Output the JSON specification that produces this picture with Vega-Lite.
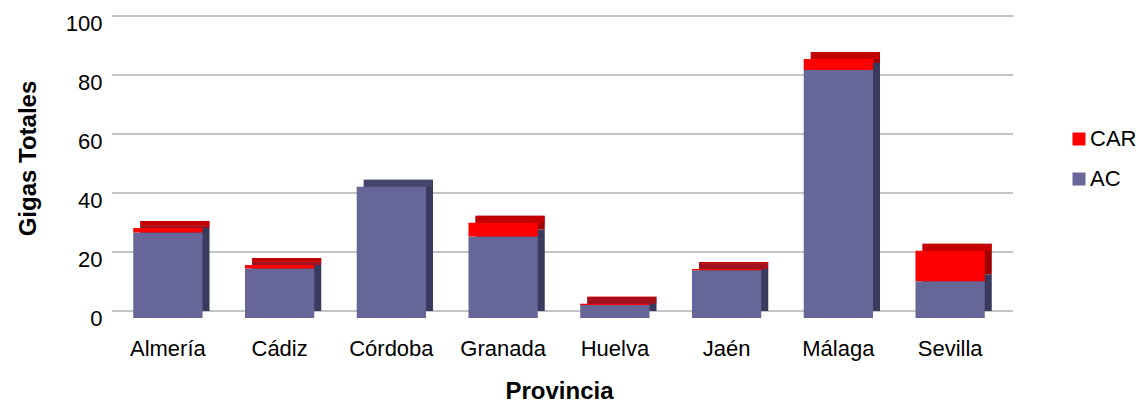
{
  "$schema": "https://vega.github.io/schema/vega-lite/v6.json",
  "width": 894,
  "height": 295,
  "autosize": {"type": "none"},
  "padding": {"left": 112, "top": 23, "right": 136, "bottom": 85},
  "background": "white",
  "config": {
    "font": "Liberation Sans",
    "view": {"stroke": null}
  },
  "data": {
    "values": [
      {"provincia": "Almería", "serie": "AC", "gigas": 29.0},
      {"provincia": "Almería", "serie": "CAR", "gigas": 1.5},
      {"provincia": "Cádiz", "serie": "AC", "gigas": 16.8},
      {"provincia": "Cádiz", "serie": "CAR", "gigas": 1.2},
      {"provincia": "Córdoba", "serie": "AC", "gigas": 44.5},
      {"provincia": "Córdoba", "serie": "CAR", "gigas": 0},
      {"provincia": "Granada", "serie": "AC", "gigas": 27.6},
      {"provincia": "Granada", "serie": "CAR", "gigas": 4.7},
      {"provincia": "Huelva", "serie": "AC", "gigas": 4.4},
      {"provincia": "Huelva", "serie": "CAR", "gigas": 0.4},
      {"provincia": "Jaén", "serie": "AC", "gigas": 16.2},
      {"provincia": "Jaén", "serie": "CAR", "gigas": 0.4},
      {"provincia": "Málaga", "serie": "AC", "gigas": 84.1},
      {"provincia": "Málaga", "serie": "CAR", "gigas": 3.7},
      {"provincia": "Sevilla", "serie": "AC", "gigas": 12.5},
      {"provincia": "Sevilla", "serie": "CAR", "gigas": 10.3}
    ]
  },
  "layer": [
    {
      "data": {"values": [{"v": 0}, {"v": 20}, {"v": 40}, {"v": 60}, {"v": 80}, {"v": 100}]},
      "mark": {"type": "rule", "color": "#c4c4c4", "strokeWidth": 2, "xOffset": 7, "yOffset": -7},
      "encoding": {
        "y": {"field": "v", "type": "quantitative", "scale": {"domain": [0, 100], "nice": false}, "axis": null}
      }
    },
    {
      "mark": {"type": "bar", "xOffset": 7, "yOffset": -7},
      "encoding": {
        "x": {"field": "provincia", "type": "nominal", "sort": null, "scale": {"paddingInner": 0.38, "paddingOuter": 0.19}, "axis": null},
        "y": {"field": "gigas", "type": "quantitative", "stack": "zero", "scale": {"domain": [0, 100], "nice": false}, "axis": null},
        "order": {"field": "serie", "sort": "ascending"},
        "color": {"field": "serie", "type": "nominal", "scale": {"domain": ["CAR", "AC"], "range": ["#a00000", "#3a3a5e"]}, "legend": null}
      }
    },
    {
      "transform": [
        {"pivot": "serie", "value": "gigas", "groupby": ["provincia"]},
        {"calculate": "datum.AC + datum.CAR", "as": "total"}
      ],
      "mark": {"type": "tick", "orient": "horizontal", "size": 69, "thickness": 7, "xOffset": 7, "yOffset": -3.5},
      "encoding": {
        "x": {"field": "provincia", "type": "nominal", "sort": null, "scale": {"paddingInner": 0.38, "paddingOuter": 0.19}, "axis": null},
        "y": {"field": "total", "type": "quantitative", "scale": {"domain": [0, 100], "nice": false}, "axis": null},
        "color": {"condition": {"test": "datum.CAR > 0", "value": "#d00000"}, "value": "#4a4a74"}
      }
    },
    {
      "mark": {"type": "bar"},
      "encoding": {
        "x": {
          "field": "provincia", "type": "nominal", "sort": null,
          "scale": {"paddingInner": 0.38, "paddingOuter": 0.19},
          "axis": {
            "title": "Provincia",
            "titleFont": "Liberation Sans", "titleFontSize": 24, "titleFontWeight": "bold", "titleColor": "#000",
            "titleBaseline": "alphabetic", "titleY": 80,
            "labelFont": "Liberation Sans", "labelFontSize": 22, "labelColor": "#000", "labelAngle": 0,
            "labelPadding": 20, "ticks": false, "tickSize": 0, "domain": false, "grid": false
          }
        },
        "y": {
          "field": "gigas", "type": "quantitative", "stack": "zero",
          "scale": {"domain": [0, 100], "nice": false},
          "axis": {
            "title": "Gigas Totales",
            "titleFont": "Liberation Sans", "titleFontSize": 24, "titleFontWeight": "bold", "titleColor": "#000",
            "titleAngle": -90, "titleBaseline": "alphabetic", "titleAlign": "center", "titleX": -77, "titleY": 135,
            "values": [0, 20, 40, 60, 80, 100],
            "labelFont": "Liberation Sans", "labelFontSize": 22, "labelColor": "#000",
            "labelPadding": 10, "ticks": false, "tickSize": 0, "domain": false, "grid": false
          }
        },
        "order": {"field": "serie", "sort": "ascending"},
        "color": {
          "field": "serie", "type": "nominal",
          "scale": {"domain": ["CAR", "AC"], "range": ["#ff0000", "#666699"]},
          "legend": {
            "title": null, "orient": "none", "legendX": 956, "legendY": 105,
            "symbolType": "square", "symbolSize": 169, "symbolStrokeWidth": 0,
            "labelFont": "Liberation Sans", "labelFontSize": 22, "labelColor": "#000",
            "labelOffset": 0, "rowPadding": 18, "padding": 0
          }
        }
      }
    }
  ],
  "resolve": {
    "scale": {"color": "independent"},
    "axis": {"x": "independent", "y": "independent"}
  }
}
